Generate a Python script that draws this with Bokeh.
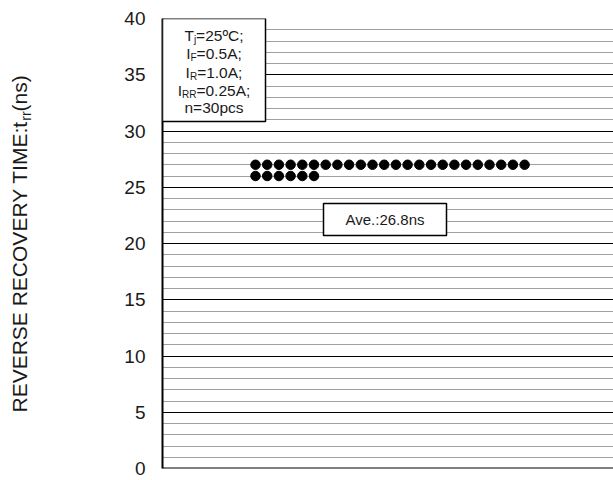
import math
from bokeh.plotting import figure
from bokeh.layouts import row
from bokeh.models import Range1d, SingleIntervalTicker, Label, BoxAnnotation, Span
from bokeh.embed import file_html
from bokeh.resources import INLINE

# ---------------- data ----------------
trr_ns = [27, 27, 27, 27, 27, 27, 27, 27, 27, 27, 27, 27,
          27, 27, 27, 27, 27, 27, 27, 27, 27, 27, 27, 27,
          26, 26, 26, 26, 26, 26]
y_min, y_max = 0, 40
legend_lines = [("T", "j", "=25ºC;"),
                ("I", "F", "=0.5A;"),
                ("I", "R", "=1.0A;"),
                ("I", "RR", "=0.25A;"),
                ("n=30pcs", "", "")]
axis_label_parts = ("REVERSE RECOVERY TIME:t", "rr", "(ns)")

# ---------------- layout (page pixels) ----------------
W, H = 613, 480
LW = 40
FL, FT, FB = 162, 18, 468
YS = (FB - FT) / (y_max - y_min)
FONT = "Liberation Sans"
TXT = "#1a1a1a"


def ydat(py):
    return y_min + (FB - py) / YS


def xdat(px):
    return px - FL


AW = {'T': 611, 'j': 222, '=': 584, '2': 556, '5': 556, 'º': 365, 'C': 722, ';': 278,
      'I': 278, 'F': 611, '0': 556, '.': 278, 'A': 667, 'R': 722, '1': 556, 'n': 556,
      '3': 556, 'p': 556, 'c': 500, 's': 500, 'r': 333, '(': 333, ')': 333, 'E': 667,
      'V': 667, 'S': 667, ' ': 278, 'O': 778, 'Y': 667, 'M': 833, ':': 278, 't': 278,
      'v': 500, 'e': 556, '8': 556, '6': 556}


def tw(s, fs):
    return sum(AW.get(c, 556) for c in s) * fs / 1000.0


p = figure(width=W - LW, height=H, output_backend="svg", toolbar_location=None,
           x_range=Range1d(0, W - FL), y_range=Range1d(y_min, y_max),
           x_axis_location=None,
           min_border_left=FL - LW, min_border_top=FT,
           min_border_bottom=H - FB, min_border_right=0,
           background_fill_color="white", border_fill_color="white")
p.outline_line_color = None

ticker = SingleIntervalTicker(interval=5, num_minor_ticks=5)
p.yaxis.ticker = ticker
p.yaxis.major_label_text_font = FONT
p.yaxis.major_label_text_font_size = "19px"
p.yaxis.major_label_text_color = TXT
p.yaxis.major_label_standoff = 11
p.yaxis.major_tick_line_color = None
p.yaxis.minor_tick_line_color = None
p.yaxis.axis_line_color = "black"
p.yaxis.axis_line_width = 2

p.ygrid.ticker = ticker
p.ygrid.grid_line_color = "black"
p.ygrid.grid_line_width = 1
p.ygrid.minor_grid_line_color = "#a0a0a0"
p.ygrid.minor_grid_line_width = 1
p.xgrid.visible = False

p.add_layout(Span(location=y_min, dimension="width", line_color="black", line_width=2))

# dots, stacked in one row per value
counts = {}
xs, ys = [], []
for v in trr_ns:
    i = counts.get(v, 0)
    counts[v] = i + 1
    xs.append(xdat(255) + i * 11.7)
    ys.append(v)
p.scatter(xs, ys, size=9.5, color="black")

# condition box
p.add_layout(BoxAnnotation(left=0, right=xdat(265), bottom=ydat(121), top=y_max,
                           fill_color="white", fill_alpha=1, line_color="black",
                           line_width=1.5, line_alpha=1))
fs, fss = 15.5, 10
cx = xdat(213.5)
line_py = [35, 53, 71.5, 89.5, 107]
for (m1, sub, m2), py in zip(legend_lines, line_py):
    total = tw(m1, fs) + tw(sub, fss) + tw(m2, fs)
    x0 = cx - total / 2
    p.add_layout(Label(x=x0, y=ydat(py), text=m1, text_font=FONT, text_font_size=f"{fs}px",
                       text_align="left", text_baseline="middle", text_color=TXT))
    if sub:
        x1 = x0 + tw(m1, fs)
        p.add_layout(Label(x=x1, y=ydat(py + 4), text=sub, text_font=FONT,
                           text_font_size=f"{fss}px", text_align="left",
                           text_baseline="middle", text_color=TXT))
        x2 = x1 + tw(sub, fss)
        p.add_layout(Label(x=x2, y=ydat(py), text=m2, text_font=FONT,
                           text_font_size=f"{fs}px", text_align="left",
                           text_baseline="middle", text_color=TXT))

# average box
ave = sum(trr_ns) / len(trr_ns)
p.add_layout(BoxAnnotation(left=xdat(323), right=xdat(446), bottom=ydat(235), top=ydat(203),
                           fill_color="white", fill_alpha=1, line_color="black",
                           line_width=1.5, line_alpha=1))
p.add_layout(Label(x=xdat(384.5), y=ydat(219), text=f"Ave.:{ave:.1f}ns", text_font=FONT,
                   text_font_size="15px", text_align="center", text_baseline="middle",
                   text_color=TXT))

# ---------------- axis-title strip (frame is aligned with the main frame) ----------------
q = figure(width=LW, height=H, output_backend="svg", toolbar_location=None,
           x_range=Range1d(0, LW), y_range=Range1d(H - FB, H - FT),
           x_axis_location=None, y_axis_location=None,
           min_border=0, min_border_left=0, min_border_right=0,
           min_border_top=FT, min_border_bottom=H - FB,
           background_fill_color="white", border_fill_color="white")
q.outline_line_color = None
q.xgrid.visible = False
q.ygrid.visible = False

afs, afss = 21, 14
cxl = 19
py0 = 412
a1, a2, a3 = axis_label_parts
q.add_layout(Label(x=cxl, y=H - py0, text=a1, angle=math.pi / 2, text_font=FONT,
                   text_font_size=f"{afs}px", text_align="left", text_baseline="middle",
                   text_color=TXT))
py1 = py0 - tw(a1, afs)
q.add_layout(Label(x=cxl + 6, y=H - py1, text=a2, angle=math.pi / 2, text_font=FONT,
                   text_font_size=f"{afss}px", text_align="left", text_baseline="middle",
                   text_color=TXT))
py2 = py1 - tw(a2, afss)
q.add_layout(Label(x=cxl, y=H - py2, text=a3, angle=math.pi / 2, text_font=FONT,
                   text_font_size=f"{afs}px", text_align="left", text_baseline="middle",
                   text_color=TXT))

open("out.html", "w").write(file_html(row(q, p), INLINE))
